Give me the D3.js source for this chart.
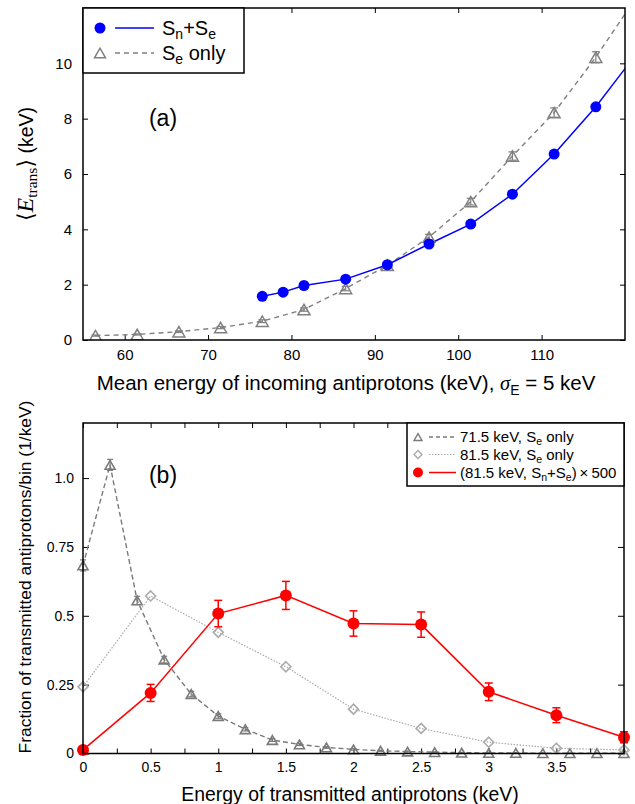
<!DOCTYPE html>
<html><head><meta charset="utf-8">
<script src="https://cdn.jsdelivr.net/npm/d3@7"></script>
<style>body{margin:0;background:#fff} text{font-family:"Liberation Sans",Arial,Helvetica,sans-serif;fill:#000}</style>
</head><body><svg id="c" width="635" height="804"></svg>
<script>
// ---------- Panel (a) data ----------
const aEnergy = [56.5,61.5,66.5,71.5,76.5,81.5,86.5,91.5,96.5,101.5,106.5,111.5,116.5,121.5];
const aSeOnly = [0.16,0.2,0.3,0.45,0.68,1.1,1.86,2.7,3.72,5.0,6.65,8.22,10.22,12.45];
const aSeOnlyErr = [0.02,0.02,0.03,0.04,0.05,0.06,0.08,0.09,0.1,0.12,0.15,0.17,0.2,0.2];
const aSnSeEnergy = [76.5,79,81.5,86.5,91.5,96.5,101.5,106.5,111.5,116.5,121.5];
const aSnSe = [1.58,1.73,1.97,2.2,2.72,3.47,4.19,5.27,6.72,8.43,10.4];
const aXTicks = [60,70,80,90,100,110];
const aYTicks = [0,2,4,6,8,10];
// ---------- Panel (b) data ----------
const bTriE = [0,0.2,0.4,0.6,0.8,1.0,1.2,1.4,1.6,1.8,2.0,2.2,2.4,2.6,2.8,3.0,3.2,3.4,3.6,3.8,4.0];
const bTri = [0.683,1.048,0.556,0.341,0.216,0.136,0.088,0.049,0.033,0.022,0.015,0.010,0.007,0.005,0.003,0.002,0.002,0.001,0.001,0.001,0.001];
const bTriErr = [0.02,0.02,0.015,0.012,0.01,0.008,0.006,0.005,0.004,0.003,0.003,0.002,0.002,0.001,0.001,0.001,0.001,0.001,0.001,0.001,0.001];
const bDiaE = [0,0.5,1,1.5,2,2.5,3,3.5,4];
const bDia = [0.242,0.572,0.44,0.315,0.161,0.091,0.041,0.019,0.013];
const bRedE = [0,0.5,1,1.5,2,2.5,3,3.5,4];
const bRed = [0.013,0.22,0.508,0.574,0.472,0.468,0.224,0.139,0.059];
const bRedErr = [0.005,0.031,0.048,0.051,0.046,0.046,0.032,0.027,0.02];
const bXTicks = [0,0.5,1,1.5,2,2.5,3,3.5];
const bXMinor = [0,0.25,0.5,0.75,1,1.25,1.5,1.75,2,2.25,2.5,2.75,3,3.25,3.5,3.75,4];
const bYTicks = [0,0.25,0.5,0.75,1.0];
const bYLabels = ["0","0.25","0.5","0.75","1.0"];

const svg = d3.select("#c");
const FONT = '"Liberation Sans",Arial,Helvetica,sans-serif';
const SERIF = '"Liberation Serif","DejaVu Serif",serif';

function triPath(cx, cy, w) {
  const h = w * 0.866;
  return `M${cx-w/2},${cy+h/2}L${cx+w/2},${cy+h/2}L${cx},${cy-h/2}Z`;
}
function diaPath(cx, cy, s) {
  return `M${cx},${cy-s}L${cx+s},${cy}L${cx},${cy+s}L${cx-s},${cy}Z`;
}

// ================= Panel (a) =================
const A = {l:83, r:625, t:8, b:340};
const xa = d3.scaleLinear().domain([55,120]).range([A.l, A.r]);
const ya = d3.scaleLinear().domain([0,12]).range([A.b, A.t]);
const ga = svg.append("g");
ga.append("clipPath").attr("id","clipA").append("rect")
  .attr("x",A.l).attr("y",A.t).attr("width",A.r-A.l).attr("height",A.b-A.t);

ga.append("g").attr("transform",`translate(0,${A.b})`)
  .call(d3.axisBottom(xa).tickValues(aXTicks).tickSize(-5).tickPadding(9))
  .call(g=>{g.select(".domain").remove(); g.selectAll("text").attr("font-size",15).attr("font-family",FONT);});
ga.append("g").attr("transform",`translate(0,${A.t})`)
  .call(d3.axisTop(xa).tickValues(aXTicks).tickSize(-5).tickFormat(""))
  .call(g=>g.select(".domain").remove());
ga.append("g").attr("transform",`translate(${A.l},0)`)
  .call(d3.axisLeft(ya).tickValues(aYTicks).tickSize(-5).tickPadding(11))
  .call(g=>{g.select(".domain").remove(); g.selectAll("text").attr("font-size",15).attr("font-family",FONT);});
ga.append("g").attr("transform",`translate(${A.r},0)`)
  .call(d3.axisRight(ya).tickValues(aYTicks).tickSize(-5).tickFormat(""))
  .call(g=>g.select(".domain").remove());

const dataA = ga.append("g").attr("clip-path","url(#clipA)");
const lineSe = d3.line().x((d,i)=>xa(aEnergy[i])).y(d=>ya(d));
dataA.append("path").datum(aSeOnly).attr("d",lineSe).attr("fill","none")
  .attr("stroke","#808080").attr("stroke-width",1.4).attr("stroke-dasharray","5,4");
const lineSn = d3.line().x((d,i)=>xa(aSnSeEnergy[i])).y(d=>ya(d));
dataA.append("path").datum(aSnSe).attr("d",lineSn).attr("fill","none")
  .attr("stroke","#0000ff").attr("stroke-width",1.5);
aSeOnly.forEach((v,i)=>{
  const x = xa(aEnergy[i]), y1 = ya(v-aSeOnlyErr[i]), y2 = ya(v+aSeOnlyErr[i]);
  const g = dataA.append("g").attr("stroke","#808080").attr("stroke-width",1.2);
  g.append("line").attr("x1",x).attr("x2",x).attr("y1",y1).attr("y2",y2);
  g.append("line").attr("x1",x-4).attr("x2",x+4).attr("y1",y1).attr("y2",y1);
  g.append("line").attr("x1",x-4).attr("x2",x+4).attr("y1",y2).attr("y2",y2);
});
dataA.selectAll("path.tri").data(aSeOnly).join("path").attr("class","tri")
  .attr("d",(d,i)=>triPath(xa(aEnergy[i]), ya(d), 12))
  .attr("fill","none").attr("stroke","#808080").attr("stroke-width",1.5);
dataA.selectAll("circle.sn").data(aSnSe).join("circle").attr("class","sn")
  .attr("cx",(d,i)=>xa(aSnSeEnergy[i])).attr("cy",d=>ya(d)).attr("r",5.5).attr("fill","#0000ff");

ga.append("rect").attr("x",A.l).attr("y",A.t).attr("width",A.r-A.l).attr("height",A.b-A.t)
  .attr("fill","none").attr("stroke","#000").attr("stroke-width",1.5);

// legend (a)
const lgA = ga.append("g");
lgA.append("rect").attr("x",A.l).attr("y",A.t).attr("width",161).attr("height",65)
  .attr("fill","#fff").attr("stroke","#000").attr("stroke-width",1.5);
lgA.append("circle").attr("cx",100).attr("cy",28).attr("r",5.5).attr("fill","#0000ff");
lgA.append("line").attr("x1",115).attr("x2",154).attr("y1",28).attr("y2",28).attr("stroke","#0000ff").attr("stroke-width",1.5);
lgA.append("path").attr("d",triPath(100,53,11)).attr("fill","none").attr("stroke","#808080").attr("stroke-width",1.5);
lgA.append("line").attr("x1",115).attr("x2",154).attr("y1",53).attr("y2",53).attr("stroke","#808080").attr("stroke-width",1.4).attr("stroke-dasharray","5,4");
const t1 = lgA.append("text").attr("x",162).attr("y",35).attr("font-size",20);
t1.append("tspan").text("S");
t1.append("tspan").attr("font-size",14).attr("dy",4).text("n");
t1.append("tspan").attr("dy",-4).text("+S");
t1.append("tspan").attr("font-size",14).attr("dy",4).text("e");
const t2 = lgA.append("text").attr("x",162).attr("y",60).attr("font-size",20);
t2.append("tspan").text("S");
t2.append("tspan").attr("font-size",14).attr("dy",4).text("e");
t2.append("tspan").attr("dy",-4).text(" only");

ga.append("text").attr("x",163).attr("y",126).attr("text-anchor","middle").attr("font-size",23).text("(a)");

// axis labels (a)
const xla = ga.append("text").attr("x",346).attr("y",390).attr("text-anchor","middle").attr("font-size",20.5);
xla.append("tspan").text("Mean energy of incoming antiprotons (keV), ");
xla.append("tspan").attr("font-family",SERIF).attr("font-style","italic").text("σ");
xla.append("tspan").attr("font-size",14).attr("dy",5).text("E");
xla.append("tspan").attr("dy",-5).text(" = 5 keV");

const yla = ga.append("text").attr("transform","translate(33,164) rotate(-90)").attr("text-anchor","middle").attr("font-size",19.5);
yla.append("tspan").attr("font-family",SERIF).attr("font-size",22).text("⟨");
yla.append("tspan").attr("font-family",SERIF).attr("font-style","italic").attr("font-size",24).text("E");
yla.append("tspan").attr("font-family",SERIF).attr("font-size",15.5).attr("dy",4).text("trans");
yla.append("tspan").attr("font-family",SERIF).attr("font-size",22).attr("dy",-4).text("⟩");
yla.append("tspan").text(" (keV)");

// ================= Panel (b) =================
const B = {l:83, r:624, t:423, b:753.5};
const xb = d3.scaleLinear().domain([0,4]).range([B.l, B.r]);
const yb = d3.scaleLinear().domain([0,1.2]).range([B.b, B.t]);
const gb = svg.append("g");

gb.append("g").attr("transform",`translate(0,${B.b})`)
  .call(d3.axisBottom(xb).tickValues(bXMinor).tickSize(-5).tickPadding(9)
        .tickFormat(d=>bXTicks.includes(d)?d3.format("")(d):""))
  .call(g=>{g.select(".domain").remove(); g.selectAll("text").attr("font-size",14).attr("font-family",FONT);});
gb.append("g").attr("transform",`translate(0,${B.t})`)
  .call(d3.axisTop(xb).tickValues(bXMinor).tickSize(-5).tickFormat(""))
  .call(g=>g.select(".domain").remove());
gb.append("g").attr("transform",`translate(${B.l},0)`)
  .call(d3.axisLeft(yb).tickValues(bYTicks).tickSize(-6).tickPadding(9).tickFormat((d,i)=>bYLabels[i]))
  .call(g=>{g.select(".domain").remove(); g.selectAll("text").attr("font-size",14).attr("font-family",FONT);});
gb.append("g").attr("transform",`translate(${B.r},0)`)
  .call(d3.axisRight(yb).tickValues(bYTicks).tickSize(-6).tickFormat(""))
  .call(g=>g.select(".domain").remove());

// triangles 71.5 keV
gb.append("path").datum(bTri).attr("d",d3.line().x((d,i)=>xb(bTriE[i])).y(d=>yb(d)))
  .attr("fill","none").attr("stroke","#7a7a7a").attr("stroke-width",1.4).attr("stroke-dasharray","5,3");
bTri.forEach((v,i)=>{
  const x = xb(bTriE[i]), y1 = yb(v-bTriErr[i]), y2 = yb(v+bTriErr[i]);
  const g = gb.append("g").attr("stroke","#7a7a7a").attr("stroke-width",1.2);
  g.append("line").attr("x1",x).attr("x2",x).attr("y1",y1).attr("y2",y2);
  g.append("line").attr("x1",x-3).attr("x2",x+3).attr("y1",y1).attr("y2",y1);
  g.append("line").attr("x1",x-3).attr("x2",x+3).attr("y1",y2).attr("y2",y2);
});
gb.selectAll("path.tri").data(bTri).join("path").attr("class","tri")
  .attr("d",(d,i)=>triPath(xb(bTriE[i]), yb(d), 10))
  .attr("fill","none").attr("stroke","#7a7a7a").attr("stroke-width",1.6);

// diamonds 81.5 keV
gb.append("path").datum(bDia).attr("d",d3.line().x((d,i)=>xb(bDiaE[i])).y(d=>yb(d)))
  .attr("fill","none").attr("stroke","#aaaaaa").attr("stroke-width",1.2).attr("stroke-dasharray","1.5,1.5");
gb.selectAll("path.dia").data(bDia).join("path").attr("class","dia")
  .attr("d",(d,i)=>diaPath(xb(bDiaE[i]), yb(d), 5))
  .attr("fill","none").attr("stroke","#aaaaaa").attr("stroke-width",1.6);

// red (x500)
gb.append("path").datum(bRed).attr("d",d3.line().x((d,i)=>xb(bRedE[i])).y(d=>yb(d)))
  .attr("fill","none").attr("stroke","#ff0000").attr("stroke-width",1.5);
bRed.forEach((v,i)=>{
  const x = xb(bRedE[i]), y1 = yb(v-bRedErr[i]), y2 = yb(v+bRedErr[i]);
  const g = gb.append("g").attr("stroke","#ff0000").attr("stroke-width",1.5);
  g.append("line").attr("x1",x).attr("x2",x).attr("y1",y1).attr("y2",y2);
  g.append("line").attr("x1",x-4).attr("x2",x+4).attr("y1",y1).attr("y2",y1);
  g.append("line").attr("x1",x-4).attr("x2",x+4).attr("y1",y2).attr("y2",y2);
});
gb.selectAll("circle.red").data(bRed).join("circle").attr("class","red")
  .attr("cx",(d,i)=>xb(bRedE[i])).attr("cy",d=>yb(d)).attr("r",6).attr("fill","#ff0000");

gb.append("rect").attr("x",B.l).attr("y",B.t).attr("width",B.r-B.l).attr("height",B.b-B.t)
  .attr("fill","none").attr("stroke","#000").attr("stroke-width",1.5);

// legend (b)
const lgB = gb.append("g");
lgB.append("rect").attr("x",407).attr("y",B.t).attr("width",B.r-407).attr("height",63)
  .attr("fill","#fff").attr("stroke","#000").attr("stroke-width",1.5);
const rows = [437,454.5,472.5];
lgB.append("path").attr("d",triPath(418,rows[0],8)).attr("fill","none").attr("stroke","#7a7a7a").attr("stroke-width",1.4);
lgB.append("line").attr("x1",429).attr("x2",456).attr("y1",rows[0]).attr("y2",rows[0]).attr("stroke","#7a7a7a").attr("stroke-width",1.3).attr("stroke-dasharray","4,3");
lgB.append("path").attr("d",diaPath(418,rows[1],4)).attr("fill","none").attr("stroke","#aaaaaa").attr("stroke-width",1.4);
lgB.append("line").attr("x1",429).attr("x2",456).attr("y1",rows[1]).attr("y2",rows[1]).attr("stroke","#aaaaaa").attr("stroke-width",1.1).attr("stroke-dasharray","1.5,1.5");
lgB.append("circle").attr("cx",418).attr("cy",rows[2]).attr("r",5).attr("fill","#ff0000");
lgB.append("line").attr("x1",429).attr("x2",456).attr("y1",rows[2]).attr("y2",rows[2]).attr("stroke","#ff0000").attr("stroke-width",1.5);
function legText(y, parts) {
  const t = lgB.append("text").attr("x",460).attr("y",y+5).attr("font-size",15);
  parts.forEach(p=>{
    const s = t.append("tspan").text(p[0]);
    if (p[1]==="sub") s.attr("font-size",10.5).attr("dy",3);
    if (p[1]==="up") s.attr("dy",-3);
  });
}
legText(rows[0], [["71.5 keV, S"],["e","sub"],[" only","up"]]);
legText(rows[1], [["81.5 keV, S"],["e","sub"],[" only","up"]]);
legText(rows[2], [["(81.5 keV, S"],["n","sub"],["+S","up"],["e","sub"],[")\u2009×\u2009500","up"]]);

gb.append("text").attr("x",163).attr("y",483).attr("text-anchor","middle").attr("font-size",23).text("(b)");

gb.append("text").attr("x",350).attr("y",801).attr("text-anchor","middle").attr("font-size",19.4)
  .text("Energy of transmitted antiprotons (keV)");
gb.append("text").attr("transform","translate(31,577) rotate(-90)").attr("text-anchor","middle").attr("font-size",17.4)
  .text("Fraction of transmitted antiprotons/bin (1/keV)");
</script></body></html>
